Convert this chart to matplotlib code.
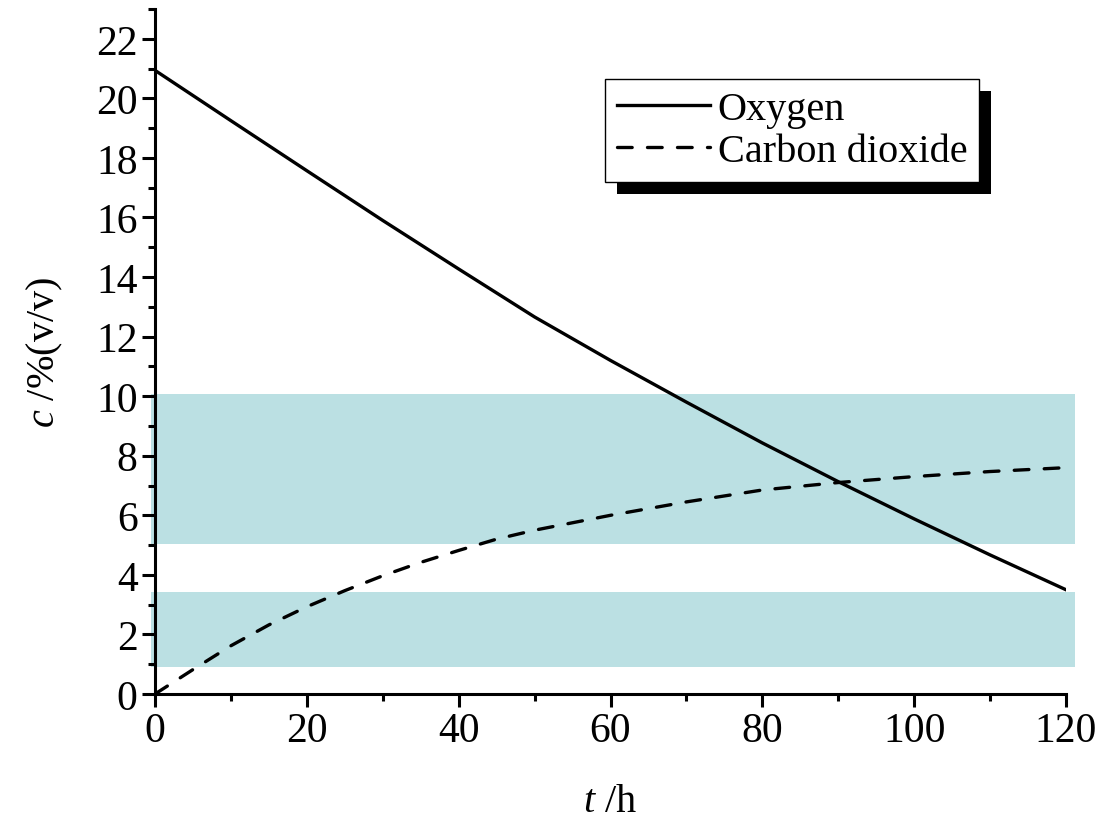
import matplotlib
matplotlib.use("Agg")
import matplotlib.pyplot as plt
from matplotlib.patches import Rectangle
from matplotlib.transforms import IdentityTransform
from matplotlib.ticker import MultipleLocator

t_o2 = [0, 10, 20, 30, 40, 50, 60, 70, 80, 90, 100, 110, 120]
oxygen = [20.94, 19.25, 17.57, 15.9, 14.27, 12.66, 11.2, 9.8, 8.43, 7.13, 5.88, 4.67, 3.5]
t_co2 = [0, 5, 10, 15, 20, 25, 30, 35, 40, 45, 50, 60, 70, 80, 90, 100, 110, 120]
co2 = [0.0, 0.82, 1.62, 2.32, 2.93, 3.47, 3.97, 4.42, 4.82, 5.2, 5.5, 6.0, 6.45, 6.85, 7.1, 7.3, 7.47, 7.6]
bands = [(5.02, 10.07), (0.91, 3.43)]
labels = ['Oxygen', 'Carbon dioxide']

plt.rcParams['font.family'] = ['Liberation Serif', 'DejaVu Serif']
plt.rcParams['mathtext.fontset'] = 'custom'
plt.rcParams['mathtext.it'] = 'Liberation Serif:italic'
plt.rcParams['mathtext.rm'] = 'Liberation Serif'

fig = plt.figure(figsize=(10.97, 8.2), dpi=100)
ax = fig.add_axes([155/1097, 1-695/820, (1066-155)/1097, (695-10)/820])

for lo, hi in bands:
    ax.axhspan(lo, hi, xmin=-0.0044, xmax=1.01, color='#bbe0e3', lw=0, zorder=0, clip_on=False)

ax.plot(t_o2, oxygen, color='black', lw=2.4, label=labels[0], zorder=3)
ax.plot(t_co2, co2, color='black', lw=2.4, dashes=(4.4, 4.6), dash_capstyle='round',
        label=labels[1], zorder=3)

ax.set_xlim(0, 120)
ax.set_ylim(0, 23)
ax.xaxis.set_major_locator(MultipleLocator(20))
ax.xaxis.set_minor_locator(MultipleLocator(10))
ax.yaxis.set_major_locator(MultipleLocator(2))
ax.yaxis.set_minor_locator(MultipleLocator(1))
for s in ['top', 'right']:
    ax.spines[s].set_visible(False)
for s in ['left', 'bottom']:
    ax.spines[s].set_linewidth(2.2)
ax.tick_params(which='major', direction='out', length=9.5, width=2.2, labelsize=30, pad=3)
ax.tick_params(which='minor', direction='out', length=5, width=2.2)

ax.set_xlabel(r'$t$ /h', fontsize=29, labelpad=24)
ax.set_ylabel(r'$c$ /%(v/v)', fontsize=29, labelpad=22)

leg = ax.legend(loc='upper left', bbox_to_anchor=(605/1097, 1-80/820), bbox_transform=fig.transFigure,
                fontsize=29, frameon=True, fancybox=False, edgecolor='black', framealpha=1,
                borderpad=0.3, handlelength=2.3, handletextpad=0.2, labelspacing=0.12, borderaxespad=0)
leg.get_frame().set_linewidth(1.0)
leg.set_zorder(6)

fig.canvas.draw()
bb = leg.get_window_extent()
shadow = Rectangle((bb.x0 + 12, bb.y0 - 12), bb.width, bb.height, transform=IdentityTransform(),
                   facecolor='black', edgecolor='none', zorder=5, clip_on=False)
ax.add_artist(shadow)

fig.savefig('out.png', dpi=100)
